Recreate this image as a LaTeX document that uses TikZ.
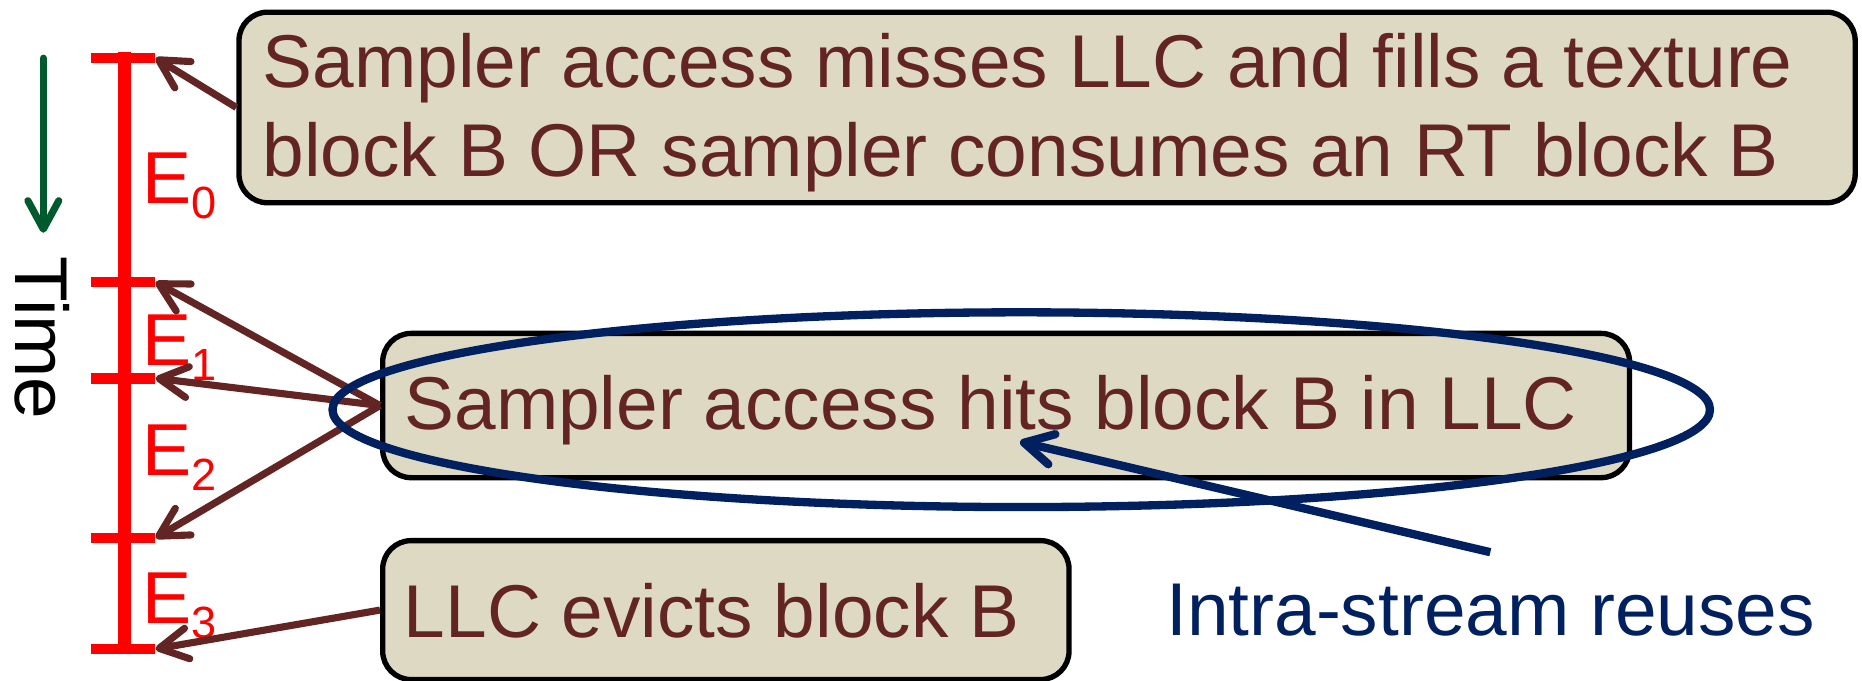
\documentclass[tikz,border=0pt]{standalone}
\usepackage{fontspec}
\setmainfont{Liberation Sans}
\usetikzlibrary{arrows.meta,shapes.geometric}
\definecolor{brownline}{RGB}{99,37,35}
\definecolor{boxfill}{RGB}{221,217,195}
\definecolor{navyline}{RGB}{0,32,96}
\definecolor{timegreen}{RGB}{0,90,45}
\begin{document}
\begin{tikzpicture}[x=1pt,y=-1pt,
  evbox/.style={draw=black, line width=4.5pt, fill=boxfill, rounded corners=24pt,
    anchor=north west, inner sep=0pt},
  boxtext/.style={anchor=base west, text=brownline, inner sep=0pt,
    font=\fontsize{63}{70}\selectfont},
  ticksty/.style={red, line width=9pt},
  barb/.style={-{Straight Barb[length=24pt,width=26pt,round]}},
  link/.style={draw=brownline, line width=6pt, barb},
  elabel/.style={anchor=base west, text=red, inner sep=0pt,
    font=\fontsize{62}{62}\selectfont},
]
\useasboundingbox (0,0) rectangle (1568,573);

% time direction
\coordinate (g0) at (36.5,49);
\coordinate (g1) at (36.5,196);
\draw[timegreen, line width=6pt, line cap=round, barb] (g0) -- (g1);
\node[rotate=-90, anchor=base, inner sep=0pt, font=\fontsize{63}{63}\selectfont]
  (time) at (13,284.5) {Time};

% time line with epoch boundaries
\coordinate (top) at (105,44);
\coordinate (bot) at (105,551);
\draw[red, line width=11pt] (top) -- (bot);
\foreach \y [count=\i from 0] in {48.8,237.5,318.5,453,546.5} {
  \coordinate (tl\i) at (77,\y);
  \coordinate (tk\i) at (131,\y);
  \draw[ticksty] (tl\i) -- (130.5,\y);
}
\newcommand{\epochlabel}[1]{E\raisebox{-13pt}{\fontsize{38}{38}\selectfont #1}}
\node[elabel] (e0) at (120,171) {\epochlabel{0}};
\node[elabel] (e1) at (120,307.5) {\epochlabel{1}};
\node[elabel] (e2) at (120,400) {\epochlabel{2}};
\node[elabel] (e3) at (120,525) {\epochlabel{3}};

% event boxes
\node[evbox, minimum width=1361pt, minimum height=160.5pt] (b1) at (199,8) {};
\node[boxtext] (t1a) at (221,73.5) {Sampler access misses LLC and fills a texture};
\node[boxtext] (t1b) at (221,149) {block B OR sampler consumes an RT block B};

\node[evbox, minimum width=1050pt, minimum height=121.5pt] (b2) at (320,278.5) {};
\node[boxtext] (t2) at (340.5,362) {Sampler access hits block B in LLC};

\node[evbox, minimum width=578pt, minimum height=117pt] (b3) at (320,453) {};
\node[boxtext] (t3) at (340,537) {LLC evicts block B};

% events pointing at epoch boundaries
\draw[link] (b1.west) -- (tk0);
\draw[link] (b2.west) -- (tk1);
\draw[link] (b2.west) -- (tk2);
\draw[link] (b2.west) -- (tk3);
\draw[link] (b3.west) -- (tk4);

% intra-stream reuse highlight
\node[draw=navyline, line width=7pt, ellipse, inner sep=0pt,
  minimum width=1160pt, minimum height=164pt] (reuse) at (860,345) {};
\coordinate (rs) at (1255,465);
\coordinate (rt) at (859,372);
\draw[navyline, line width=7pt, barb] (rs) -- (rt);
\node[anchor=base west, text=navyline, inner sep=0pt,
  font=\fontsize{63}{63}\selectfont] (lbl) at (982,535) {Intra-stream reuses};
\end{tikzpicture}
\end{document}
